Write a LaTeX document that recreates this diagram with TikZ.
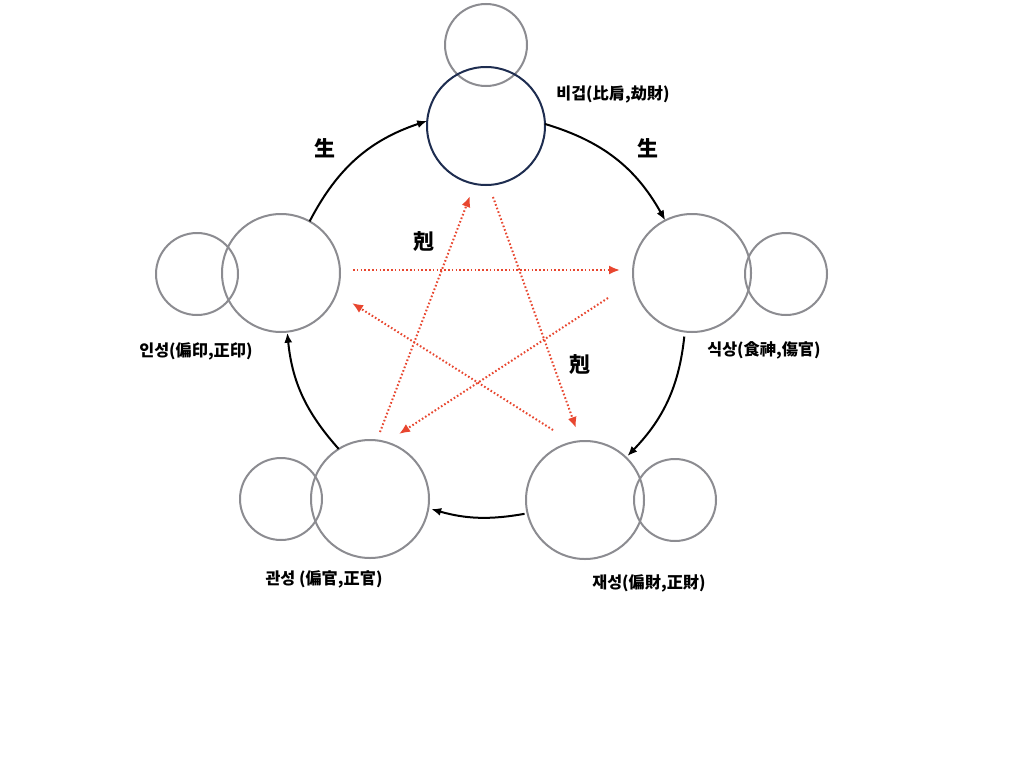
\documentclass[tikz,border=0pt]{standalone}
\usepackage{fontspec}
\newfontfamily\kr{Noto Sans CJK KR}
\usetikzlibrary{arrows.meta,calc}
\definecolor{cgray}{HTML}{8C8C91}
\definecolor{cnavy}{HTML}{1E2D50}
\definecolor{cred}{HTML}{E8462F}
\begin{document}
\begin{tikzpicture}[x=1pt,y=-1pt,
  big/.style={circle,draw=cgray,line width=2pt,minimum size=118pt,inner sep=0pt,outer sep=0pt},
  small/.style={circle,draw=cgray,line width=2pt,minimum size=82pt,inner sep=0pt,outer sep=0pt},
  gen/.style={line width=2pt,black,-{Latex[length=10pt,width=8pt]}},
  ke/.style={line width=2pt,cred,dash pattern=on 1.6pt off 2.2pt,-{Latex[length=11pt,width=9pt]}},
  lab/.style={font=\kr\bfseries\fontsize{16.2}{19}\selectfont,inner sep=0pt},
  big char/.style={font=\kr\bfseries\fontsize{21}{24}\selectfont,inner sep=0pt}]
\useasboundingbox[fill=white] (0,0) rectangle (1024,768);
% small circles
\node[small] (Ts) at (486,45) {};
\node[small] (Rs) at (786,274) {};
\node[small] (Ls) at (197,274) {};
\node[small] (BLs) at (281,499) {};
\node[small] (BRs) at (675,500) {};
% main circles
\node[big,draw=cnavy] (T) at (486,126) {};
\node[big] (R) at (692,273) {};
\node[big] (L) at (281,273) {};
\node[big] (BL) at (370,499) {};
\node[big] (BR) at (585,500) {};
% generating cycle
\draw[gen] (L.61) to[bend left=22] (T.175);
\draw[gen] (T.2) to[bend left=22] (R.117);
\draw[gen,shorten <=5pt,shorten >=2pt] (R.263) to[bend left=19] (BR.46);
\draw[gen,shorten <=3pt,shorten >=3pt] (BR.193) to[bend left=13] (BL.-9);
\draw[gen,shorten >=1pt] (BL.122) to[bend left=18] (L.276);
% controlling star
\draw[ke] ($(L)+(72,-3)$) -- ($(R)+(-72,-3)$);
\draw[ke] ($(R)+(-84,25)$) -- ($(BL)+(29,-65)$);
\draw[ke] ($(BR)+(-32,-70)$) -- ($(L)+(71,30)$);
\draw[ke] ($(BL)+(10,-67)$) -- ($(T)+(-16,70)$);
\draw[ke] ($(T)+(7,71)$) -- ($(BR)+(-9,-72)$);
% labels
\node[lab] (lT) at (613,94) {비겁(比肩,劫財)};
\node[lab] (lR) at (764,350) {식상(食神,傷官)};
\node[lab] (lL) at (196,351) {인성(偏印,正印)};
\node[lab] (lBL) at (324,579) {관성 (偏官,正官)};
\node[lab] (lBR) at (649,583) {재성(偏財,正財)};
\node[big char] (g1) at (325,148) {生};
\node[big char] (g2) at (648,148) {生};
\node[big char] (k1) at (424,242) {剋};
\node[big char] (k2) at (580,365) {剋};
\end{tikzpicture}
\end{document}
